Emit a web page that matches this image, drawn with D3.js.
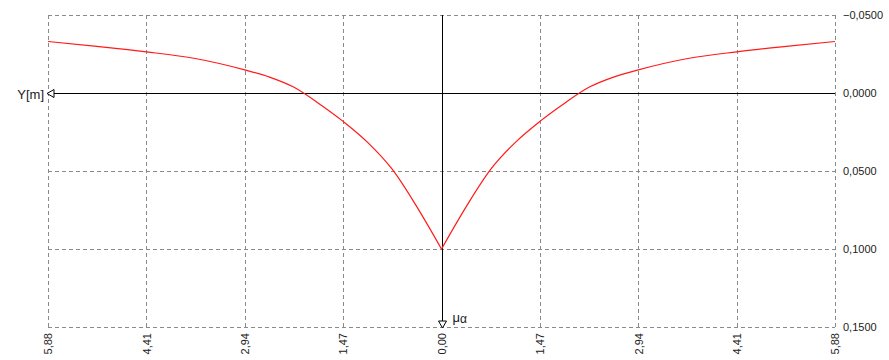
<!DOCTYPE html>
<html>
<head>
<meta charset="utf-8">
<script src="https://cdn.jsdelivr.net/npm/d3@7"></script>
<style>
  body { margin: 0; background: #fff; }
  text { font-family: "Liberation Sans", Arial, sans-serif; font-size: 11px; fill: #222; }
</style>
</head>
<body>
<svg width="889" height="360"></svg>
<script>
// deflection curve
var xValues = [-5.88, -5.15, -4.41, -3.68, -2.94, -2.57, -2.21, -1.84, -1.47, -1.10, -0.74, -0.37, 0,
               0.37, 0.74, 1.10, 1.47, 1.84, 2.21, 2.57, 2.94, 3.68, 4.41, 5.15, 5.88];
var yValues = [-0.0330, -0.0299, -0.0264, -0.0221, -0.0148, -0.0102, -0.0038, 0.0065, 0.0182, 0.0318, 0.0487, 0.0728, 0.1000,
               0.0728, 0.0487, 0.0318, 0.0182, 0.0065, -0.0038, -0.0102, -0.0148, -0.0221, -0.0264, -0.0299, -0.0330];
var xTicks = [-5.88, -4.41, -2.94, -1.47, 0, 1.47, 2.94, 4.41, 5.88];
var yTicks = [-0.05, 0, 0.05, 0.10, 0.15];

var svg = d3.select('svg');
var x = d3.scaleLinear().domain([-5.88, 5.88]).range([48, 835]);
var y = d3.scaleLinear().domain([-0.05, 0.15]).range([15, 327]);
var font = '"Liberation Sans", Arial, sans-serif';

function comma(s) { return s.replace('.', ','); }

// grid
svg.append('g').selectAll('line')
  .data(xTicks).enter().append('line')
  .attr('x1', function(d) { return Math.round(x(d)) + 0.5; })
  .attr('x2', function(d) { return Math.round(x(d)) + 0.5; })
  .attr('y1', y(-0.05)).attr('y2', y(0.15))
  .attr('stroke', '#8a8a8a').attr('stroke-dasharray', '4,3');
svg.append('g').selectAll('line')
  .data(yTicks).enter().append('line')
  .attr('y1', function(d) { return Math.round(y(d)) + 0.5; })
  .attr('y2', function(d) { return Math.round(y(d)) + 0.5; })
  .attr('x1', x(-5.88)).attr('x2', x(5.88))
  .attr('stroke', '#8a8a8a').attr('stroke-dasharray', '4,3');

// y tick labels on the right
var yAxis = d3.axisRight(y).tickValues(yTicks).tickSize(0).tickPadding(0)
  .tickFormat(function(d) { return comma(d3.format('.4f')(d)); });
svg.append('g').attr('transform', 'translate(843,0)').call(yAxis)
  .call(function(g) { g.select('.domain').remove(); })
  .selectAll('text').attr('font-size', 12).attr('fill', '#222').attr('font-family', font);

// x tick labels, rotated
var xAxis = d3.axisBottom(x).tickValues(xTicks).tickSize(0).tickPadding(0)
  .tickFormat(function(d) { return comma(d3.format('.2f')(Math.abs(d))); });
var gx = svg.append('g').attr('transform', 'translate(0,331)').call(xAxis);
gx.select('.domain').remove();
gx.selectAll('text')
  .attr('transform', 'rotate(-90)')
  .attr('x', -2).attr('y', 0).attr('dy', '0.35em')
  .style('text-anchor', 'end')
  .attr('font-size', 12).attr('fill', '#222').attr('font-family', font);

// axes
var y0 = Math.round(y(0)) + 0.5;
var x0 = Math.round(x(0)) + 0.5;
svg.append('line').attr('x1', x(-5.88) + 4).attr('x2', x(5.88)).attr('y1', y0).attr('y2', y0)
  .attr('stroke', '#000');
svg.append('path')
  .attr('d', 'M' + (x(-5.88) - 1) + ',' + y0 + 'l7,-4v8z')
  .attr('fill', '#fff').attr('stroke', '#000');
svg.append('line').attr('x1', x0).attr('x2', x0).attr('y1', y(-0.05)).attr('y2', y(0.15) - 4)
  .attr('stroke', '#000');
svg.append('path')
  .attr('d', 'M' + x0 + ',' + (y(0.15) + 1) + 'l-4,-7h8z')
  .attr('fill', '#fff').attr('stroke', '#000');

svg.append('text').attr('x', x(-5.88) - 4).attr('y', y0 + 5)
  .attr('text-anchor', 'end').style('font-size', '13px').text('Y[m]');
var mu = svg.append('text').attr('x', x0 + 10).attr('y', y(0.15) - 5).style('font-size', '13px');
mu.append('tspan').text('μ');
mu.append('tspan').attr('dy', 1).style('font-size', '12px').text('α');

// curve, drawn as two halves so the cusp at 0 stays sharp
var pts = xValues.map(function(d, i) { return [d, yValues[i]]; });
var line = d3.line().x(function(d) { return x(d[0]); }).y(function(d) { return y(d[1]); })
  .curve(d3.curveMonotoneX);
var mid = xValues.indexOf(0);
[pts.slice(0, mid + 1), pts.slice(mid)].forEach(function(half) {
  svg.append('path').datum(half)
    .attr('d', line)
    .attr('fill', 'none').attr('stroke', '#ff1a1a').attr('stroke-width', 1.2);
});
</script>
</body>
</html>
